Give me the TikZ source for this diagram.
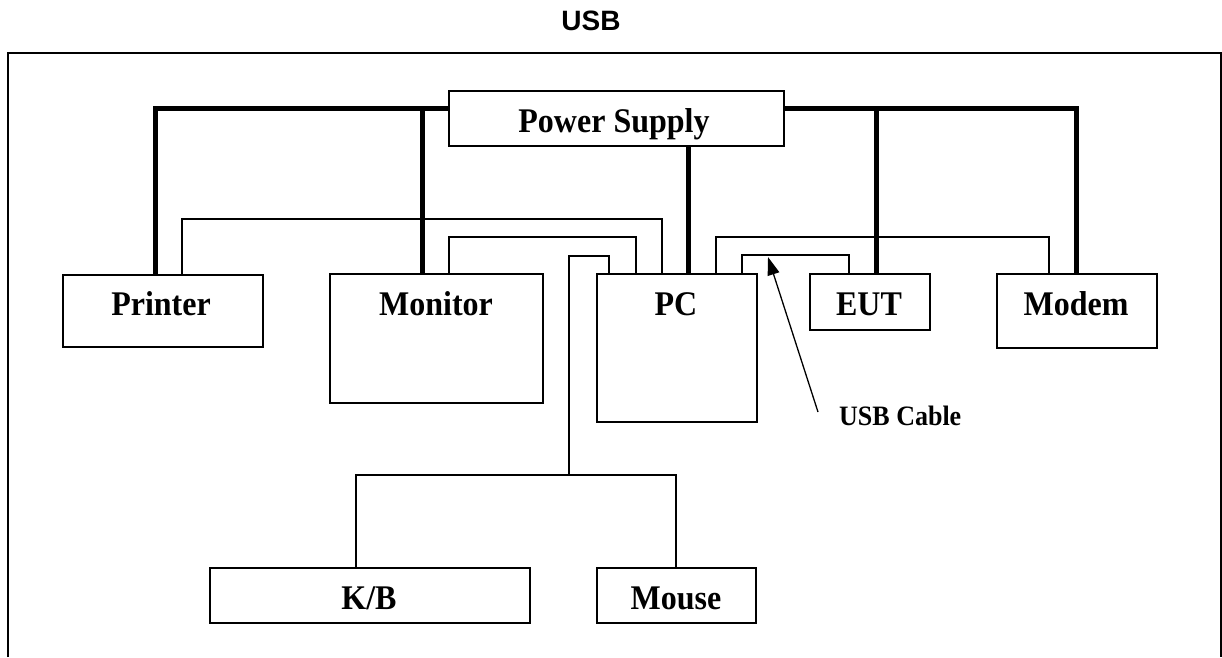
\documentclass[tikz,border=0pt]{standalone}
\usepackage{fontspec}
\setmainfont{Liberation Serif}
\newfontfamily\titlefont{Liberation Sans}
\usetikzlibrary{arrows.meta}
\begin{document}
\begin{tikzpicture}[x=1pt,y=-1pt,
  box/.style={draw, line width=1.8pt, inner sep=0pt, anchor=north west},
  lbl/.style={font=\fontsize{32}{32}\selectfont\bfseries, anchor=base, inner sep=0pt},
  power/.style={line width=5pt},
  cable/.style={line width=1.3pt},
  frameline/.style={line width=1.8pt},
]
\useasboundingbox (0,0) rectangle (1222,657);

% frame and title
\draw[frameline] (8,657) -- (8,53) -- (1221,53) -- (1221,657);
\node[font=\titlefont\fontsize{28}{28}\selectfont\bfseries, anchor=base, inner sep=0pt] (title) at (591,30) {USB};

% boxes
\node[box, minimum width=335pt, minimum height=55pt] (ps) at (448,90) {};
\node[box, minimum width=200pt, minimum height=72pt] (printer) at (62,274) {};
\node[box, minimum width=213pt, minimum height=129pt] (monitor) at (329,273) {};
\node[box, minimum width=160pt, minimum height=148pt] (pc) at (596,273) {};
\node[box, minimum width=120pt, minimum height=56pt] (eut) at (809,273) {};
\node[box, minimum width=160pt, minimum height=74pt] (modem) at (996,273) {};
\node[box, minimum width=320pt, minimum height=55pt] (kb) at (209,567) {};
\node[box, minimum width=159pt, minimum height=55pt] (mouse) at (596,567) {};

% labels
\node[lbl] (ps-t) at (614,132) {\scalebox{1}[1.08]{Power Supply}};
\node[lbl] (printer-t) at (161,315) {\scalebox{1}[1.08]{Printer}};
\node[lbl] (monitor-t) at (436,315) {\scalebox{1}[1.08]{Monitor}};
\node[lbl] (pc-t) at (676,315) {\scalebox{1}[1.08]{PC}};
\node[lbl] (eut-t) at (869,315) {\scalebox{1}[1.08]{EUT}};
\node[lbl] (modem-t) at (1076,315) {\scalebox{1}[1.08]{Modem}};
\node[lbl] (kb-t) at (369,609) {\scalebox{1}[1.08]{K/B}};
\node[lbl] (mouse-t) at (676,609) {\scalebox{1}[1.08]{Mouse}};
\node[font=\fontsize{26}{26}\selectfont\bfseries, anchor=base west, inner sep=0pt] (usbcable) at (839,425) {\scalebox{1}[1.08]{USB Cable}};

% power lines
\draw[power] (ps.west |- 0,108) -- (155,108) -- (printer.north -| 155,0);
\draw[power] (422,108) -- (monitor.north -| 422,0);
\draw[power] (ps.east |- 0,108) -- (1076,108) -- (modem.north -| 1076,0);
\draw[power] (876,108) -- (eut.north -| 876,0);
\draw[power] (ps.south -| 688,0) -- (pc.north -| 688,0);

% cables
\draw[cable] (printer.north -| 182,0) |- (662,219) -- (pc.north -| 662,0);
\draw[cable] (monitor.north -| 449,0) |- (636,237) -- (pc.north -| 636,0);
\draw[cable] (modem.north -| 1049,0) |- (716,237) -- (pc.north -| 716,0);
\draw[cable] (eut.north -| 849,0) |- (742,255) -- (pc.north -| 742,0);
\draw[cable] (pc.north -| 609,0) |- (569,256) -- (569,475);
\draw[cable] (kb.north -| 356,0) |- (676,475) -- (mouse.north -| 676,0);

% USB cable pointer
\coordinate (cabletail) at (818,412);
\draw[cable, -{Triangle[length=18pt,width=12pt]}] (cabletail) -- (768,257);
\end{tikzpicture}
\end{document}
